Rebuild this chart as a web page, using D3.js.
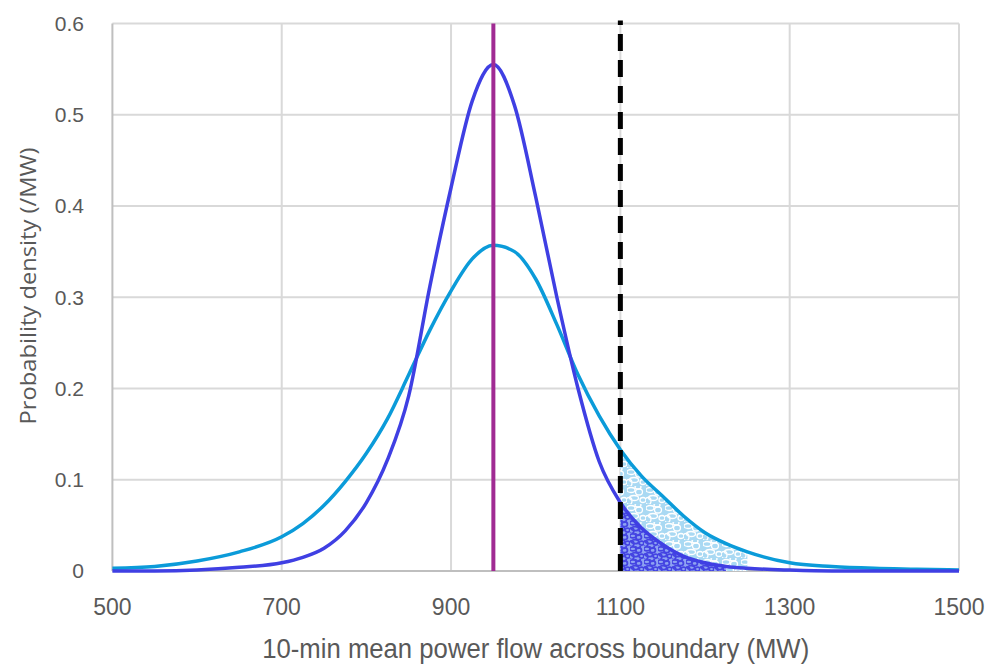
<!DOCTYPE html>
<html>
<head>
<meta charset="utf-8">
<script src="https://cdn.jsdelivr.net/npm/d3@7"></script>
<style>
  body { margin: 0; background: #fff; }
</style>
</head>
<body>
<script>
// Chart settings
const width = 989;
const height = 666;
const margin = { top: 23.5, right: 30, bottom: 95, left: 112.4 };

// Data
const flowMW = [500, 550, 600, 650, 700, 725, 750, 775, 800, 825, 850, 875, 900, 925, 950,
                975, 1000, 1025, 1050, 1075, 1100, 1125, 1150, 1175, 1200, 1225, 1250, 1300,
                1350, 1400, 1450, 1500];
const narrowDensity = [0.000, 0.000, 0.001, 0.004, 0.009, 0.015, 0.025, 0.044, 0.075, 0.122, 0.192, 0.312, 0.420, 0.515, 0.555,
                       0.510, 0.410, 0.300, 0.200, 0.120, 0.075, 0.047, 0.029, 0.016, 0.009, 0.005, 0.003, 0.001,
                       0.000, 0.000, 0.000, 0.000];
const wideDensity = [0.003, 0.005, 0.011, 0.021, 0.0375, 0.052, 0.072, 0.098, 0.129, 0.167, 0.215, 0.264, 0.307, 0.342, 0.357,
                     0.350, 0.320, 0.270, 0.215, 0.170, 0.133, 0.104, 0.082, 0.060, 0.042, 0.030, 0.021, 0.009,
                     0.005, 0.003, 0.002, 0.001];
const meanFlow = 950;
const limitFlow = 1100;
const wideShadeEnd = 1250;
const narrowShadeEnd = 1225;
const xTicks = [500, 700, 900, 1100, 1300, 1500];
const yTicks = [0, 0.1, 0.2, 0.3, 0.4, 0.5, 0.6];
const xTitle = '10-min mean power flow across boundary (MW)';
const yTitle = 'Probability density (/MW)';

const narrow = flowMW.map((f, i) => ({ x: f, y: narrowDensity[i] }));
const wide = flowMW.map((f, i) => ({ x: f, y: wideDensity[i] }));

const svg = d3.select('body')
  .append('svg')
  .attr('width', width)
  .attr('height', height);

const x = d3.scaleLinear()
  .domain([500, 1500])
  .range([margin.left, width - margin.right]);

const y = d3.scaleLinear()
  .domain([0, 0.6])
  .range([height - margin.bottom, margin.top]);

// Scribble-like patterns for the shaded tails
const defs = svg.append('defs');
const loops = [[4, 4, 4, 2.5], [12, 6, 3.5, 3], [7, 12, 4.5, 2.5], [16, 14, 3, 2.5], [2, 15, 3, 3.5], [11, 1, 3, 2]];

const pLight = defs.append('pattern')
  .attr('id', 'scribbleLight')
  .attr('patternUnits', 'userSpaceOnUse')
  .attr('width', 19).attr('height', 18);
pLight.append('rect').attr('width', 19).attr('height', 18).attr('fill', '#a9d9f3');
pLight.selectAll('ellipse').data(loops).enter().append('ellipse')
  .attr('cx', d => d[0]).attr('cy', d => d[1]).attr('rx', d => d[2]).attr('ry', d => d[3])
  .attr('fill', 'none').attr('stroke', '#ffffff').attr('stroke-width', 1.3);

const pDark = defs.append('pattern')
  .attr('id', 'scribbleDark')
  .attr('patternUnits', 'userSpaceOnUse')
  .attr('width', 14).attr('height', 13);
pDark.append('rect').attr('width', 14).attr('height', 13).attr('fill', '#8ea3f2');
pDark.selectAll('ellipse').data(loops).enter().append('ellipse')
  .attr('cx', d => d[0] * 0.72).attr('cy', d => d[1] * 0.72).attr('rx', d => d[2] * 0.8).attr('ry', d => d[3] * 0.8)
  .attr('fill', 'none').attr('stroke', '#4444e2').attr('stroke-width', 1.8);

// Gridlines
svg.append('g')
  .selectAll('line')
  .data(yTicks.slice(1))
  .enter()
  .append('line')
  .attr('x1', x(500)).attr('x2', x(1500))
  .attr('y1', d => y(d)).attr('y2', d => y(d))
  .attr('stroke', '#d9d9d9').attr('stroke-width', 2);

svg.append('g')
  .selectAll('line')
  .data(xTicks.slice(1))
  .enter()
  .append('line')
  .attr('x1', d => x(d)).attr('x2', d => x(d))
  .attr('y1', y(0)).attr('y2', y(0.6))
  .attr('stroke', '#d9d9d9').attr('stroke-width', 2);

// Axis lines
svg.append('line')
  .attr('x1', x(500)).attr('x2', x(500)).attr('y1', y(0)).attr('y2', y(0.6))
  .attr('stroke', '#bfbfbf').attr('stroke-width', 2);
svg.append('line')
  .attr('x1', x(500)).attr('x2', x(1500)).attr('y1', y(0)).attr('y2', y(0))
  .attr('stroke', '#bfbfbf').attr('stroke-width', 2);

// Shaded tails beyond the limit
const area = d3.area()
  .x(d => x(d.x))
  .y0(y(0))
  .y1(d => y(d.y))
  .curve(d3.curveMonotoneX);

svg.append('path')
  .datum(wide.filter(d => d.x >= limitFlow && d.x <= wideShadeEnd))
  .attr('d', area)
  .attr('fill', 'url(#scribbleLight)');

svg.append('path')
  .datum(narrow.filter(d => d.x >= limitFlow && d.x <= narrowShadeEnd))
  .attr('d', area)
  .attr('fill', 'url(#scribbleDark)');

// Curves
const line = d3.line()
  .x(d => x(d.x))
  .y(d => y(d.y))
  .curve(d3.curveMonotoneX);

svg.append('path')
  .datum(wide)
  .attr('d', line)
  .attr('fill', 'none')
  .attr('stroke', '#0b9bd9')
  .attr('stroke-width', 3.5);

svg.append('path')
  .datum(narrow)
  .attr('d', line)
  .attr('fill', 'none')
  .attr('stroke', '#3f3fe3')
  .attr('stroke-width', 3.5);

// Mean line and limit line
svg.append('line')
  .attr('x1', x(meanFlow)).attr('x2', x(meanFlow))
  .attr('y1', y(0)).attr('y2', y(0.6))
  .attr('stroke', '#a02b93').attr('stroke-width', 4);

svg.append('line')
  .attr('x1', x(limitFlow)).attr('x2', x(limitFlow))
  .attr('y1', y(0)).attr('y2', y(0.6) - 3)
  .attr('stroke', '#000').attr('stroke-width', 5)
  .attr('stroke-dasharray', '17 9');

// Tick labels
svg.append('g')
  .selectAll('text')
  .data(yTicks)
  .enter()
  .append('text')
  .attr('x', 84)
  .attr('y', d => y(d))
  .attr('dy', '0.35em')
  .attr('text-anchor', 'end')
  .style('font', '21px "Liberation Sans", Arial, sans-serif')
  .style('fill', '#595959')
  .text(d => d);

svg.append('g')
  .selectAll('text')
  .data(xTicks)
  .enter()
  .append('text')
  .attr('x', d => x(d))
  .attr('y', 607)
  .attr('dy', '0.35em')
  .attr('text-anchor', 'middle')
  .style('font', '23px "Liberation Sans", Arial, sans-serif')
  .style('fill', '#595959')
  .text(d => d);

// Axis titles
svg.append('text')
  .attr('x', (x(500) + x(1500)) / 2)
  .attr('y', 658)
  .attr('text-anchor', 'middle')
  .attr('textLength', 547)
  .attr('lengthAdjust', 'spacingAndGlyphs')
  .style('font', '27px "Liberation Sans", Arial, sans-serif')
  .style('fill', '#595959')
  .text(xTitle);

svg.append('text')
  .attr('transform', 'translate(29, 286) rotate(-90)')
  .attr('dy', '0.35em')
  .attr('text-anchor', 'middle')
  .attr('textLength', 277)
  .attr('lengthAdjust', 'spacingAndGlyphs')
  .style('font', '21px "Open Sans", sans-serif')
  .style('fill', '#595959')
  .text(yTitle);
</script>
</body>
</html>
